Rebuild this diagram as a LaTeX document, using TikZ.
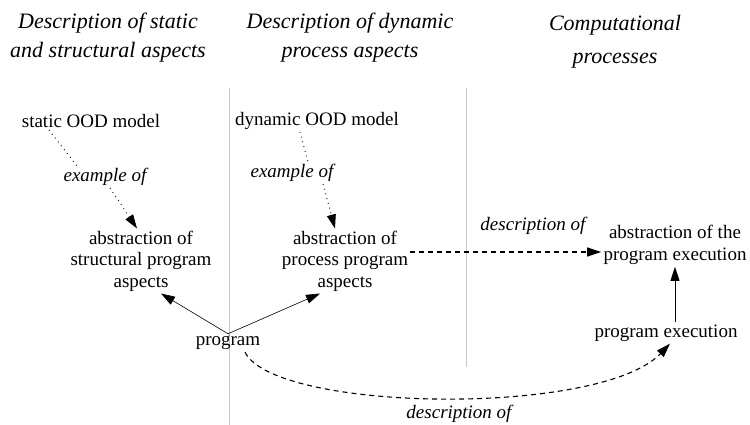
\documentclass[tikz,border=0pt]{standalone}
\usepackage{fontspec}
\setmainfont{Liberation Serif}
\usetikzlibrary{positioning}
\usetikzlibrary{arrows.meta}

\begin{document}
\begin{tikzpicture}[x=1pt,y=-1pt,>={Triangle[length=14pt,width=9pt]},
                semithick,
                main node/.style={align=center,font=\fontsize{19}{21.5}\selectfont,inner sep=2pt},
                rel node/.style={font=\fontsize{19}{21.5}\selectfont\itshape,inner sep=2pt},
                head node/.style={align=center,font=\fontsize{22}{29}\selectfont\itshape},
                sep line/.style={gray!45,thin},
                ex line/.style={line width=0.9pt,dash pattern=on 0.9pt off 4pt},
                desc line/.style={line width=1.1pt,dash pattern=on 5pt off 4pt}]

  \useasboundingbox (0,0) rectangle (750,425);

  % column heads
  \node[head node] (h1) at (108,38) {Description of static\\and structural aspects};
  \node[head node] (h2) at (350,38) {Description of dynamic\\process aspects};
  \node[head node, font=\fontsize{22}{33}\selectfont\itshape] (h3) at (615,42) {Computational\\processes};

  \coordinate (s1) at (229,88);
  \coordinate (s2) at (466,88);
  \draw[sep line] (s1) -- (229,425);
  \draw[sep line] (s2) -- (466,367);

  \node[main node] (static) at (91,121) {static OOD model};
  \node[main node] (dynamic) at (317,121) {dynamic OOD model};
  \node[rel node] (ex1) at (105,177) {example of};
  \node[rel node] (ex2) at (292,173) {example of};
  \node[main node] (abs1) at (141,261) {abstraction of\\structural program\\aspects};
  \node[main node] (abs2) at (345,261) {abstraction of\\process program\\aspects};
  \node[main node] (prog) at (228,343) {program};
  \node[main node] (abs3) at (675,245) {abstraction of the\\program execution};
  \node[main node] (exec) at (666,333) {program execution};
  \node[rel node] (desc1) at (533,226) {description of};
  \node[rel node, inner sep=0pt] (desc2) at (459,414) {description of};

  \path[ex line]
    ([xshift=-42pt]static.south) edge ([xshift=-28pt]ex1.north)
    ([xshift=5pt]ex1.south) edge[->] ([xshift=-4pt]abs1.north)
    ([xshift=-17pt]dynamic.south) edge ([xshift=16pt]ex2.north)
    ([xshift=31pt]ex2.south) edge[->] ([xshift=-10pt]abs2.north);

  \path[->]
    (prog.north) edge ([xshift=20pt]abs1.south)
                 edge ([xshift=-25pt]abs2.south)
    (abs3.south |- exec.north) edge (abs3.south);

  \draw[desc line,->] ([yshift=9pt]abs2.east) -- ([yshift=9pt]abs2.east -| abs3.west);
  \draw[desc line,->] ([xshift=17pt]prog.south) .. controls (275,412) and (600,417) .. ([xshift=4pt]exec.south);

\end{tikzpicture}
\end{document}
